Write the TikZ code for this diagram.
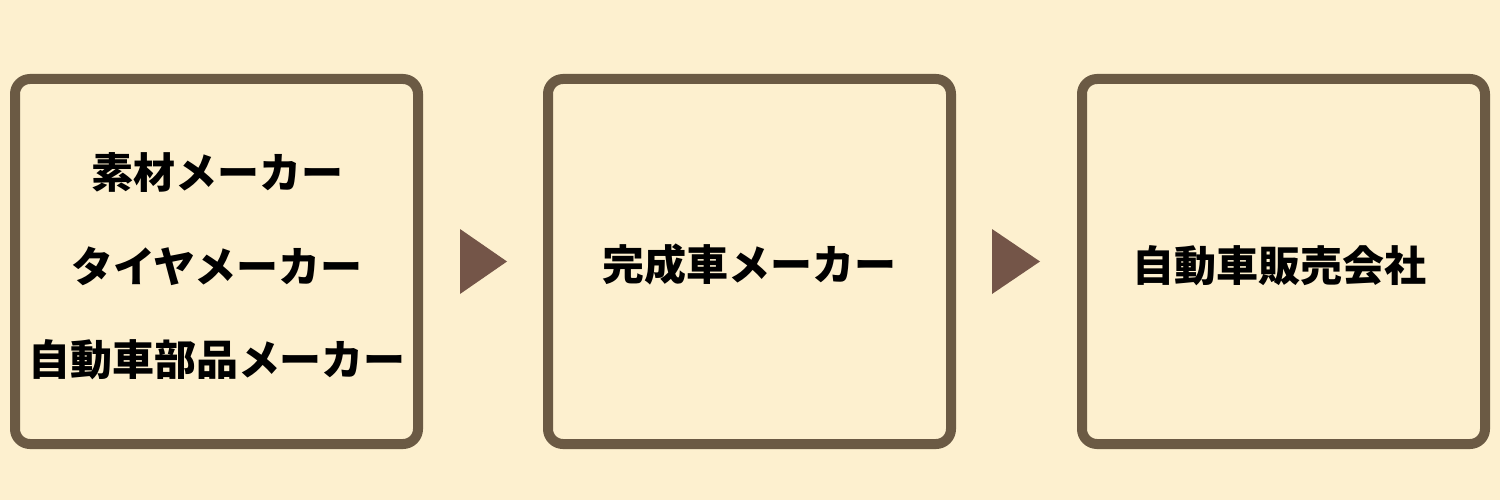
\documentclass[tikz,border=0pt]{standalone}
\usepackage{fontspec}
\newfontfamily\cjk{Noto Sans CJK JP}
\definecolor{bgc}{HTML}{FDF0CF}
\definecolor{edgec}{HTML}{6B5A44}
\definecolor{tric}{HTML}{745548}
\begin{document}
\begin{tikzpicture}[x=1pt,y=-1pt,
  stage/.style={draw=edgec,line width=10pt,rounded corners=15pt,fill=bgc,
    minimum width=403pt,minimum height=365pt,inner sep=0pt},
  label/.style={anchor=base,inner sep=0pt,font=\cjk\bfseries\fontsize{42pt}{42pt}\selectfont},
  tri/.style={fill=tric,draw=none}]
\fill[bgc] (0,0) rectangle (1500,500);
\useasboundingbox (0,0) rectangle (1500,500);
\node[stage] (b1) at (216.5,261.5) {};
\node[stage] (b2) at (749.5,261.5) {};
\node[stage] (b3) at (1283.5,261.5) {};
\node[label] (t1) at (217,189) {素材メーカー};
\node[label] (t2) at (217,282.5) {タイヤメーカー};
\node[label] (t3) at (217,375) {自動車部品メーカー};
\node[label] (t4) at (749,280.5) {完成車メーカー};
\node[label] (t5) at (1279,281) {自動車販売会社};
\fill[tri] (460,229) -- (460,294) -- (507,261.5) -- cycle;
\fill[tri] (992,229) -- (992,294) -- (1040,261.5) -- cycle;
\end{tikzpicture}
\end{document}
